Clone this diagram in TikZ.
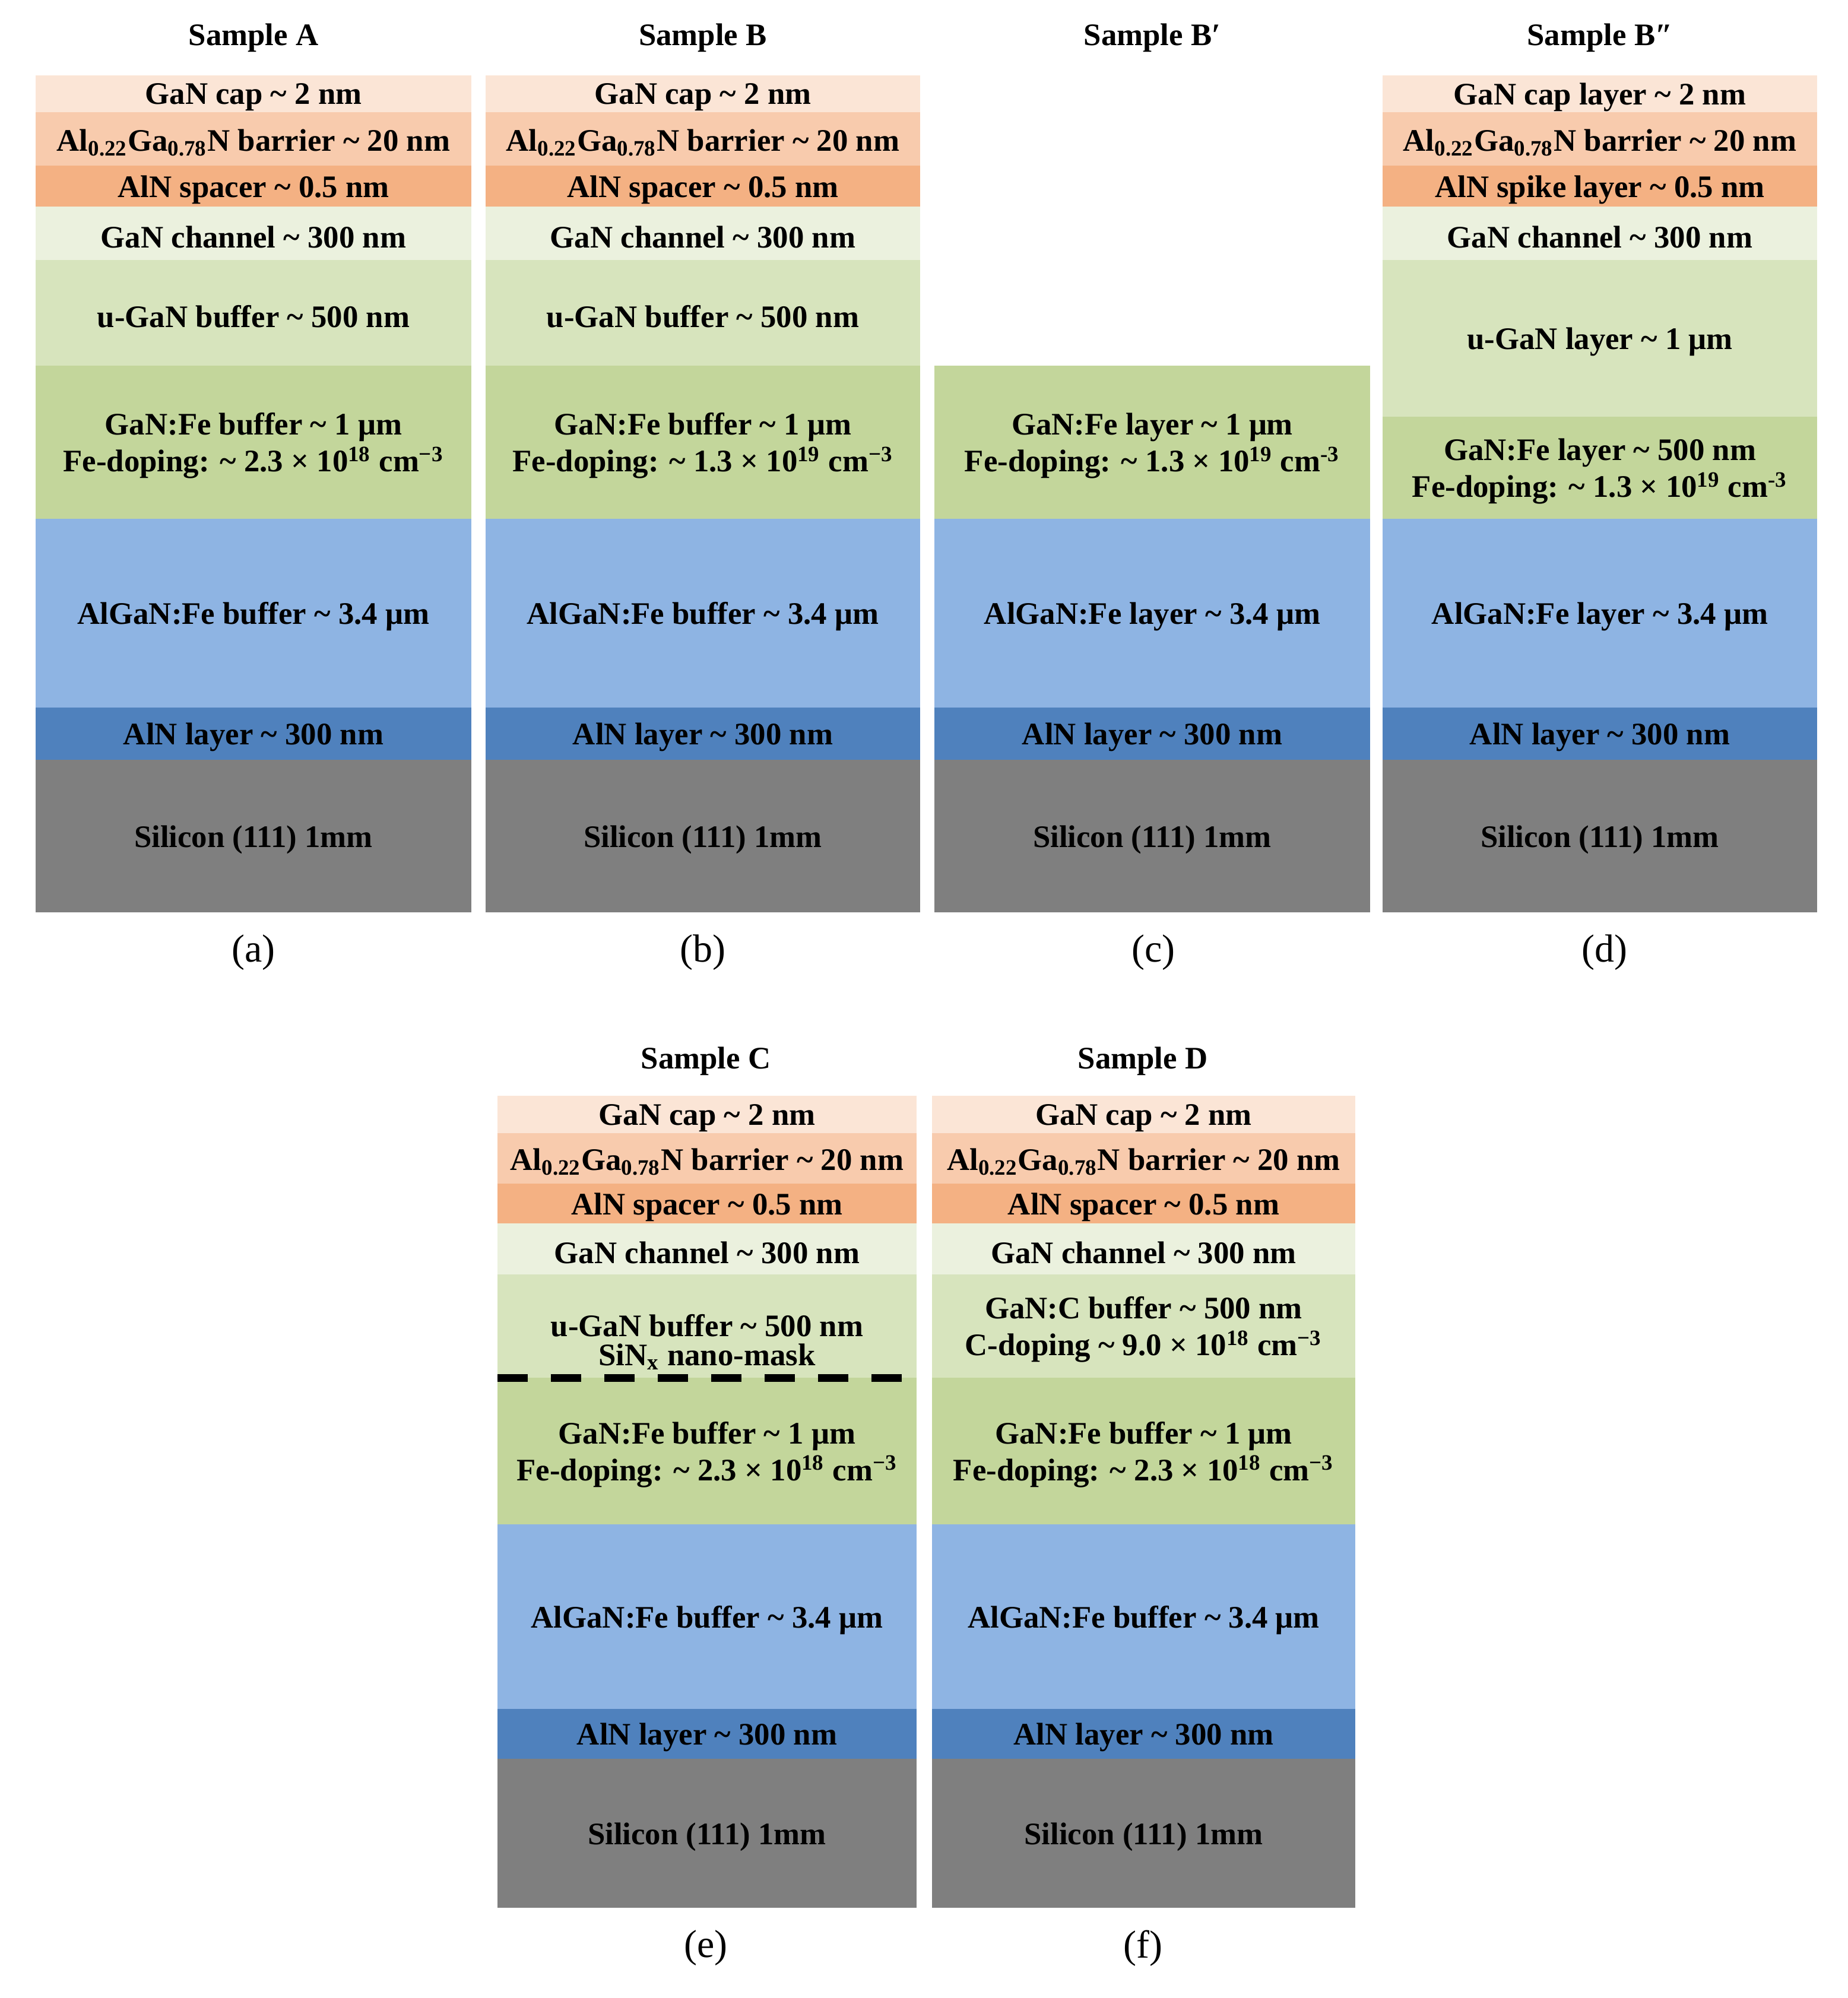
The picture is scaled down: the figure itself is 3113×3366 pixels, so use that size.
\documentclass[tikz,border=0pt]{standalone}
\usepackage{fontspec}
\setmainfont{Liberation Serif}
\definecolor{capc}{HTML}{FBE5D6}
\definecolor{barc}{HTML}{F8CBAD}
\definecolor{spac}{HTML}{F4B183}
\definecolor{chac}{HTML}{EBF1DE}
\definecolor{ugac}{HTML}{D7E4BD}
\definecolor{fegc}{HTML}{C3D69B}
\definecolor{algc}{HTML}{8EB4E3}
\definecolor{alnc}{HTML}{4F81BD}
\definecolor{sic}{HTML}{7F7F7F}
\newcommand\tl{\textasciitilde}
\newcommand\AlGaNx{Al\textsubscript{0.22}Ga\textsubscript{0.78}N}
\newcommand\lay[7]{%
  \fill[#6] (#2,#4) rectangle ({#2+#3},#5);
  \node[lt] (#1) at ({#2+#3/2},{(#4+#5)/2}) {#7};}
\tikzset{
  lt/.style={align=center, inner sep=0pt, text=black, yshift=-1.5pt,
    font=\fontsize{13.2}{15.5}\selectfont\bfseries},
  ttl/.style={inner sep=0pt, yshift=-1.5pt, font=\fontsize{13.2}{15.5}\selectfont\bfseries},
  sub/.style={inner sep=0pt, yshift=-1.5pt, font=\fontsize{16.5}{19}\selectfont},
  mask/.style={line width=3.25pt, dash pattern=on 12.75pt off 9.75pt}
}
\begin{document}
\begin{tikzpicture}[x=0.25pt,y=-0.25pt]
\useasboundingbox (0,0) rectangle (3113,3366);
% ---------------- Sample A
\def\X{60}\def\W{734}
\lay{a1}{\X}{\W}{127}{189}{capc}{GaN cap \tl{} 2 nm}
\lay{a2}{\X}{\W}{189}{279}{barc}{\AlGaNx{} barrier \tl{} 20 nm}
\lay{a3}{\X}{\W}{279}{348}{spac}{AlN spacer \tl{} 0.5 nm}
\lay{a4}{\X}{\W}{348}{438}{chac}{GaN channel \tl{} 300 nm}
\lay{a5}{\X}{\W}{438}{616}{ugac}{u-GaN buffer \tl{} 500 nm}
\lay{a6}{\X}{\W}{616}{874}{fegc}{GaN:Fe buffer \tl{} 1 μm\\Fe-doping: \tl{} 2.3 × 10\textsuperscript{18} cm\textsuperscript{−3}}
\lay{a7}{\X}{\W}{874}{1192}{algc}{AlGaN:Fe buffer \tl{} 3.4 μm}
\lay{a8}{\X}{\W}{1192}{1280}{alnc}{AlN layer \tl{} 300 nm}
\lay{a9}{\X}{\W}{1280}{1537}{sic}{Silicon (111) 1mm}
\node[ttl] (ta) at (427,58) {Sample A};
\node[sub] (la) at (427,1599) {(a)};
% ---------------- Sample B
\def\X{818}\def\W{732}
\lay{b1}{\X}{\W}{127}{189}{capc}{GaN cap \tl{} 2 nm}
\lay{b2}{\X}{\W}{189}{279}{barc}{\AlGaNx{} barrier \tl{} 20 nm}
\lay{b3}{\X}{\W}{279}{348}{spac}{AlN spacer \tl{} 0.5 nm}
\lay{b4}{\X}{\W}{348}{438}{chac}{GaN channel \tl{} 300 nm}
\lay{b5}{\X}{\W}{438}{616}{ugac}{u-GaN buffer \tl{} 500 nm}
\lay{b6}{\X}{\W}{616}{874}{fegc}{GaN:Fe buffer \tl{} 1 μm\\Fe-doping: \tl{} 1.3 × 10\textsuperscript{19} cm\textsuperscript{−3}}
\lay{b7}{\X}{\W}{874}{1192}{algc}{AlGaN:Fe buffer \tl{} 3.4 μm}
\lay{b8}{\X}{\W}{1192}{1280}{alnc}{AlN layer \tl{} 300 nm}
\lay{b9}{\X}{\W}{1280}{1537}{sic}{Silicon (111) 1mm}
\node[ttl] (tb) at (1184,58) {Sample B};
\node[sub] (lb) at (1184,1599) {(b)};
% ---------------- Sample B'
\def\X{1574}\def\W{734}
\lay{c6}{\X}{\W}{616}{874}{fegc}{GaN:Fe layer \tl{} 1 μm\\Fe-doping: \tl{} 1.3 × 10\textsuperscript{19} cm\textsuperscript{-3}}
\lay{c7}{\X}{\W}{874}{1192}{algc}{AlGaN:Fe layer \tl{} 3.4 μm}
\lay{c8}{\X}{\W}{1192}{1280}{alnc}{AlN layer \tl{} 300 nm}
\lay{c9}{\X}{\W}{1280}{1537}{sic}{Silicon (111) 1mm}
\node[ttl] (tc) at (1941,58) {Sample B′};
\node[sub] (lc) at (1943,1599) {(c)};
% ---------------- Sample B''
\def\X{2329}\def\W{732}
\lay{d1}{\X}{\W}{127}{189}{capc}{GaN cap layer \tl{} 2 nm}
\lay{d2}{\X}{\W}{189}{279}{barc}{\AlGaNx{} barrier \tl{} 20 nm}
\lay{d3}{\X}{\W}{279}{348}{spac}{AlN spike layer \tl{} 0.5 nm}
\lay{d4}{\X}{\W}{348}{438}{chac}{GaN channel \tl{} 300 nm}
\lay{d5}{\X}{\W}{438}{702}{ugac}{u-GaN layer \tl{} 1 μm}
\lay{d6}{\X}{\W}{702}{874}{fegc}{GaN:Fe layer \tl{} 500 nm\\Fe-doping: \tl{} 1.3 × 10\textsuperscript{19} cm\textsuperscript{-3}}
\lay{d7}{\X}{\W}{874}{1192}{algc}{AlGaN:Fe layer \tl{} 3.4 μm}
\lay{d8}{\X}{\W}{1192}{1280}{alnc}{AlN layer \tl{} 300 nm}
\lay{d9}{\X}{\W}{1280}{1537}{sic}{Silicon (111) 1mm}
\node[ttl] (td) at (2695,58) {Sample B″};
\node[sub] (ld) at (2703,1599) {(d)};
% ---------------- Sample C
\def\X{838}\def\W{706}
\lay{e1}{\X}{\W}{1846}{1909}{capc}{GaN cap \tl{} 2 nm}
\lay{e2}{\X}{\W}{1909}{1994}{barc}{\AlGaNx{} barrier \tl{} 20 nm}
\lay{e3}{\X}{\W}{1994}{2061}{spac}{AlN spacer \tl{} 0.5 nm}
\lay{e4}{\X}{\W}{2061}{2147}{chac}{GaN channel \tl{} 300 nm}
\fill[ugac] (838,2147) rectangle (1544,2321);
\node[lt, font=\fontsize{13.2}{12.25}\selectfont\bfseries] (e5) at (1191,2255) {u-GaN buffer \tl{} 500 nm\\SiN\textsubscript{x} nano-mask};
\lay{e6}{\X}{\W}{2321}{2568}{fegc}{GaN:Fe buffer \tl{} 1 μm\\Fe-doping: \tl{} 2.3 × 10\textsuperscript{18} cm\textsuperscript{−3}}
\lay{e7}{\X}{\W}{2568}{2879}{algc}{AlGaN:Fe buffer \tl{} 3.4 μm}
\lay{e8}{\X}{\W}{2879}{2963}{alnc}{AlN layer \tl{} 300 nm}
\lay{e9}{\X}{\W}{2963}{3214}{sic}{Silicon (111) 1mm}
\coordinate (m1) at (838,2321);
\coordinate (m2) at (1524,2321);
\draw[mask] (m1) -- (m2);
\node[ttl] (te) at (1189,1782) {Sample C};
\node[sub] (le) at (1189,3276) {(e)};
% ---------------- Sample D
\def\X{1570}\def\W{713}
\lay{f1}{\X}{\W}{1846}{1909}{capc}{GaN cap \tl{} 2 nm}
\lay{f2}{\X}{\W}{1909}{1994}{barc}{\AlGaNx{} barrier \tl{} 20 nm}
\lay{f3}{\X}{\W}{1994}{2061}{spac}{AlN spacer \tl{} 0.5 nm}
\lay{f4}{\X}{\W}{2061}{2147}{chac}{GaN channel \tl{} 300 nm}
\lay{f5}{\X}{\W}{2147}{2321}{ugac}{GaN:C buffer \tl{} 500 nm\\C-doping \tl{} 9.0 × 10\textsuperscript{18} cm\textsuperscript{−3}}
\lay{f6}{\X}{\W}{2321}{2568}{fegc}{GaN:Fe buffer \tl{} 1 μm\\Fe-doping: \tl{} 2.3 × 10\textsuperscript{18} cm\textsuperscript{−3}}
\lay{f7}{\X}{\W}{2568}{2879}{algc}{AlGaN:Fe buffer \tl{} 3.4 μm}
\lay{f8}{\X}{\W}{2879}{2963}{alnc}{AlN layer \tl{} 300 nm}
\lay{f9}{\X}{\W}{2963}{3214}{sic}{Silicon (111) 1mm}
\node[ttl] (tf) at (1925,1782) {Sample D};
\node[sub] (lf) at (1925,3276) {(f)};
\end{tikzpicture}
\end{document}
